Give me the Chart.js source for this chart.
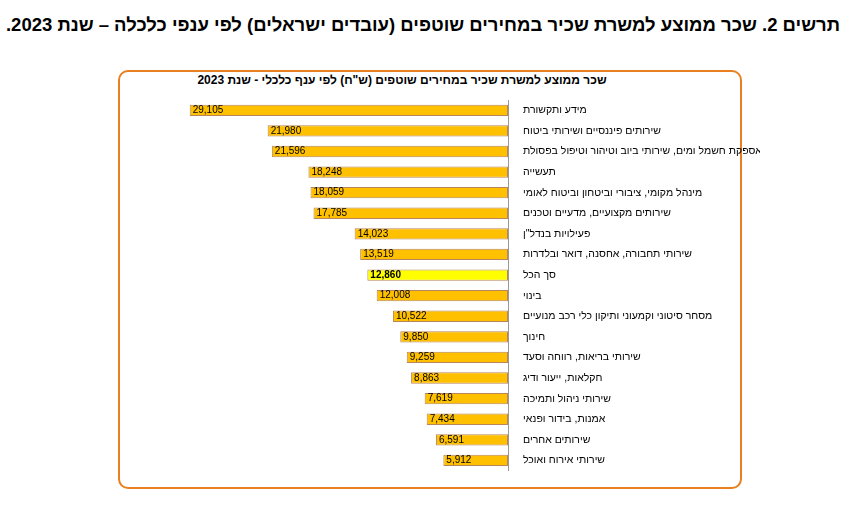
<!DOCTYPE html>
<html><head><meta charset="utf-8">
<script src="https://cdn.jsdelivr.net/npm/chart.js@4"></script>
<style>
body{margin:0;background:#fff;font-family:"Liberation Sans",Arial,sans-serif;}
#title{position:absolute;right:17px;top:14px;font-size:18.5px;font-weight:bold;direction:rtl;white-space:nowrap;}
#box{position:absolute;left:118px;top:70px;width:620px;height:415px;border:2px solid #E97F1F;border-radius:10px;}
#sub{position:absolute;left:118px;top:73px;width:568px;text-align:center;font-size:12px;font-weight:bold;direction:rtl;}
#wrap{position:absolute;left:120px;top:86px;width:640px;height:398px;}
</style></head><body>
<div id="title">תרשים 2. שכר ממוצע למשרת שכיר במחירים שוטפים (עובדים ישראלים) לפי ענפי כלכלה – שנת 2023.</div>
<div id="box"></div>
<div id="sub">שכר ממוצע למשרת שכיר במחירים שוטפים (ש"ח) לפי ענף כלכלי - שנת 2023</div>
<div id="wrap"><canvas id="c"></canvas></div>
<script>
// branches and their average wage
const branches = ['מידע ותקשורת','שירותים פיננסיים ושירותי ביטוח','אספקת חשמל ומים, שירותי ביוב וטיהור וטיפול בפסולת','תעשייה','מינהל מקומי, ציבורי וביטחון וביטוח לאומי','שירותים מקצועיים, מדעיים וטכנים','פעילויות בנדל"ן','שירותי תחבורה, אחסנה, דואר ובלדרות','סך הכל','בינוי','מסחר סיטוני וקמעוני ותיקון כלי רכב מנועיים','חינוך','שירותי בריאות, רווחה וסעד','חקלאות, ייעור ודיג','שירותי ניהול ותמיכה','אמנות, בידור ופנאי','שירותים אחרים','שירותי אירוח ואוכל'];
const wages = [29105,21980,21596,18248,18059,17785,14023,13519,12860,12008,10522,9850,9259,8863,7619,7434,6591,5912];
const totalIdx = 8;

const valueLabels = {
  id: 'valueLabels',
  afterDatasetsDraw(chart) {
    const ctx = chart.ctx;
    chart.getDatasetMeta(0).data.forEach((bar, i) => {
      ctx.save();
      ctx.font = (i === totalIdx ? 'bold ' : '') + '10px "Liberation Sans", Arial';
      ctx.fillStyle = '#000';
      ctx.textAlign = 'left';
      ctx.textBaseline = 'middle';
      ctx.fillText(wages[i].toLocaleString('en-US'), bar.x + 3, bar.y);
      ctx.restore();
    });
  }
};

new Chart(document.getElementById('c'), {
  type: 'bar',
  data: {
    labels: branches,
    datasets: [{
      data: wages,
      backgroundColor: wages.map((_, i) => i === totalIdx ? '#FFFF00' : '#FFC000'),
      borderColor: '#B8865A',
      borderWidth: 1,
      borderSkipped: false,
      categoryPercentage: 1,
      barPercentage: 0.55
    }]
  },
  options: {
    indexAxis: 'y',
    responsive: true,
    maintainAspectRatio: false,
    animation: false,
    layout: { padding: { left: 49, top: 14, bottom: 2, right: 0 } },
    plugins: { legend: { display: false }, tooltip: { enabled: false } },
    scales: {
      x: { reverse: true, min: 0, max: 31000, display: false },
      y: {
        position: 'right',
        grid: { display: false },
        border: { display: true, color: '#999' },
        ticks: { color: '#000', font: { size: 10.5, family: '"Liberation Sans", Arial' }, padding: 7, autoSkip: false },
        afterFit(s) { s.width = 252; }
      }
    }
  },
  plugins: [valueLabels]
});
</script>
</body></html>
